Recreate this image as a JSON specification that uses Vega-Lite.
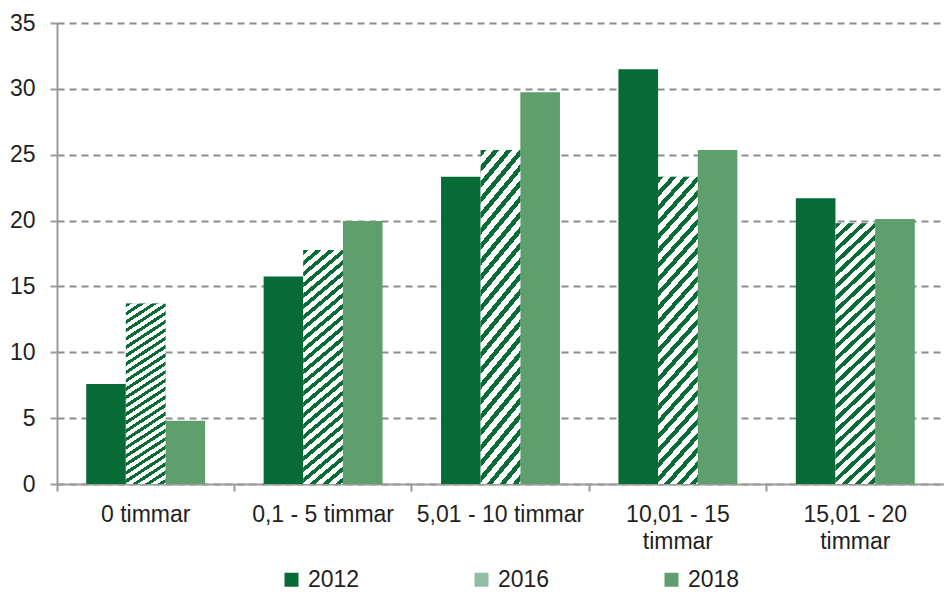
{
  "$schema": "https://vega.github.io/schema/vega-lite/v6.json",
  "autosize": {"type": "none"},
  "padding": {"left": 57, "top": 23, "right": 0, "bottom": 108},
  "width": 887,
  "height": 461,
  "background": "#ffffff",
  "config": {
    "view": {"stroke": null},
    "font": "Liberation Sans",
    "axis": {"labelFont": "Liberation Sans", "labelFontSize": 23, "labelColor": "#231f20"},
    "legend": {"labelFont": "Liberation Sans", "labelFontSize": 23, "labelColor": "#231f20"}
  },
  "data": {
    "values": [
      {"kategori": "0 timmar", "year": "2012", "value": 7.6},
      {"kategori": "0 timmar", "year": "2016", "value": 13.7},
      {"kategori": "0 timmar", "year": "2018", "value": 4.8},
      {"kategori": "0,1 - 5 timmar", "year": "2012", "value": 15.75},
      {"kategori": "0,1 - 5 timmar", "year": "2016", "value": 17.77},
      {"kategori": "0,1 - 5 timmar", "year": "2018", "value": 19.97},
      {"kategori": "5,01 - 10 timmar", "year": "2012", "value": 23.33},
      {"kategori": "5,01 - 10 timmar", "year": "2016", "value": 25.36},
      {"kategori": "5,01 - 10 timmar", "year": "2018", "value": 29.75},
      {"kategori": "10,01 - 15 timmar", "year": "2012", "value": 31.48},
      {"kategori": "10,01 - 15 timmar", "year": "2016", "value": 23.33},
      {"kategori": "10,01 - 15 timmar", "year": "2018", "value": 25.36},
      {"kategori": "15,01 - 20 timmar", "year": "2012", "value": 21.69},
      {"kategori": "15,01 - 20 timmar", "year": "2016", "value": 19.79},
      {"kategori": "15,01 - 20 timmar", "year": "2018", "value": 20.12}
    ]
  },
  "encoding": {
    "x": {
      "field": "kategori",
      "type": "nominal",
      "sort": null,
      "title": null,
      "scale": {"paddingInner": 0, "paddingOuter": 0},
      "axis": {
        "labelAngle": 0,
        "bandPosition": 0,
        "tickSize": 7,
        "tickWidth": 2,
        "tickColor": "#9b9b9b",
        "domainColor": "#9b9b9b",
        "domainWidth": 2,
        "labelPadding": 12,
        "labelLineHeight": 27,
        "labelLimit": 300,
        "labelExpr": "length(datum.value) > 16 ? [slice(datum.value, 0, 10), 'timmar'] : datum.value"
      }
    },
    "xOffset": {
      "field": "year",
      "type": "nominal",
      "scale": {"paddingInner": 0, "paddingOuter": 0.7375}
    },
    "y": {
      "field": "value",
      "type": "quantitative",
      "title": null,
      "scale": {"domain": [0, 35], "nice": false},
      "axis": {
        "values": [0, 5, 10, 15, 20, 25, 30, 35],
        "tickSize": 7,
        "tickWidth": 2,
        "tickColor": "#9b9b9b",
        "domainColor": "#9b9b9b",
        "domainWidth": 2,
        "labelPadding": 15,
        "grid": true,
        "gridColor": "#8c8c8c",
        "gridWidth": 2,
        "gridDash": [7, 5]
      }
    }
  },
  "layer": [
    {
      "mark": {"type": "bar"},
      "encoding": {
        "color": {
          "field": "year",
          "type": "nominal",
          "title": null,
          "scale": {"domain": ["2012", "2016", "2018"], "range": ["#066b36", "#91bca5", "#5f9f6e"]},
          "legend": {
            "orient": "none",
            "direction": "horizontal",
            "legendX": 223,
            "legendY": 545,
            "symbolType": "square",
            "symbolSize": 196,
            "symbolStrokeWidth": 0,
            "labelOffset": 5,
            "columnPadding": 110,
            "padding": 0
          }
        }
      }
    },
    {
      "transform": [{"filter": "datum.year == '2016'"}],
      "mark": {
        "type": "bar",
        "fill": {"gradient": "linear", "x1": 0, "y1": 0, "x2": 0.195, "y2": 1.365, "stops": [
      {"offset": 0, "color": "#0b6b36"}, {"offset": 0.015, "color": "#0b6b36"}, {"offset": 0.015, "color": "#ffffff"}, {"offset": 0.0333, "color": "#ffffff"},
      {"offset": 0.0333, "color": "#0b6b36"}, {"offset": 0.0483, "color": "#0b6b36"}, {"offset": 0.0483, "color": "#ffffff"}, {"offset": 0.0667, "color": "#ffffff"},
      {"offset": 0.0667, "color": "#0b6b36"}, {"offset": 0.0817, "color": "#0b6b36"}, {"offset": 0.0817, "color": "#ffffff"}, {"offset": 0.1, "color": "#ffffff"},
      {"offset": 0.1, "color": "#0b6b36"}, {"offset": 0.115, "color": "#0b6b36"}, {"offset": 0.115, "color": "#ffffff"}, {"offset": 0.1333, "color": "#ffffff"},
      {"offset": 0.1333, "color": "#0b6b36"}, {"offset": 0.1483, "color": "#0b6b36"}, {"offset": 0.1483, "color": "#ffffff"}, {"offset": 0.1667, "color": "#ffffff"},
      {"offset": 0.1667, "color": "#0b6b36"}, {"offset": 0.1817, "color": "#0b6b36"}, {"offset": 0.1817, "color": "#ffffff"}, {"offset": 0.2, "color": "#ffffff"},
      {"offset": 0.2, "color": "#0b6b36"}, {"offset": 0.215, "color": "#0b6b36"}, {"offset": 0.215, "color": "#ffffff"}, {"offset": 0.2333, "color": "#ffffff"},
      {"offset": 0.2333, "color": "#0b6b36"}, {"offset": 0.2483, "color": "#0b6b36"}, {"offset": 0.2483, "color": "#ffffff"}, {"offset": 0.2667, "color": "#ffffff"},
      {"offset": 0.2667, "color": "#0b6b36"}, {"offset": 0.2817, "color": "#0b6b36"}, {"offset": 0.2817, "color": "#ffffff"}, {"offset": 0.3, "color": "#ffffff"},
      {"offset": 0.3, "color": "#0b6b36"}, {"offset": 0.315, "color": "#0b6b36"}, {"offset": 0.315, "color": "#ffffff"}, {"offset": 0.3333, "color": "#ffffff"},
      {"offset": 0.3333, "color": "#0b6b36"}, {"offset": 0.3483, "color": "#0b6b36"}, {"offset": 0.3483, "color": "#ffffff"}, {"offset": 0.3667, "color": "#ffffff"},
      {"offset": 0.3667, "color": "#0b6b36"}, {"offset": 0.3817, "color": "#0b6b36"}, {"offset": 0.3817, "color": "#ffffff"}, {"offset": 0.4, "color": "#ffffff"},
      {"offset": 0.4, "color": "#0b6b36"}, {"offset": 0.415, "color": "#0b6b36"}, {"offset": 0.415, "color": "#ffffff"}, {"offset": 0.4333, "color": "#ffffff"},
      {"offset": 0.4333, "color": "#0b6b36"}, {"offset": 0.4483, "color": "#0b6b36"}, {"offset": 0.4483, "color": "#ffffff"}, {"offset": 0.4667, "color": "#ffffff"},
      {"offset": 0.4667, "color": "#0b6b36"}, {"offset": 0.4817, "color": "#0b6b36"}, {"offset": 0.4817, "color": "#ffffff"}, {"offset": 0.5, "color": "#ffffff"},
      {"offset": 0.5, "color": "#0b6b36"}, {"offset": 0.515, "color": "#0b6b36"}, {"offset": 0.515, "color": "#ffffff"}, {"offset": 0.5333, "color": "#ffffff"},
      {"offset": 0.5333, "color": "#0b6b36"}, {"offset": 0.5483, "color": "#0b6b36"}, {"offset": 0.5483, "color": "#ffffff"}, {"offset": 0.5667, "color": "#ffffff"},
      {"offset": 0.5667, "color": "#0b6b36"}, {"offset": 0.5817, "color": "#0b6b36"}, {"offset": 0.5817, "color": "#ffffff"}, {"offset": 0.6, "color": "#ffffff"},
      {"offset": 0.6, "color": "#0b6b36"}, {"offset": 0.615, "color": "#0b6b36"}, {"offset": 0.615, "color": "#ffffff"}, {"offset": 0.6333, "color": "#ffffff"},
      {"offset": 0.6333, "color": "#0b6b36"}, {"offset": 0.6483, "color": "#0b6b36"}, {"offset": 0.6483, "color": "#ffffff"}, {"offset": 0.6667, "color": "#ffffff"},
      {"offset": 0.6667, "color": "#0b6b36"}, {"offset": 0.6817, "color": "#0b6b36"}, {"offset": 0.6817, "color": "#ffffff"}, {"offset": 0.7, "color": "#ffffff"},
      {"offset": 0.7, "color": "#0b6b36"}, {"offset": 0.715, "color": "#0b6b36"}, {"offset": 0.715, "color": "#ffffff"}, {"offset": 0.7333, "color": "#ffffff"},
      {"offset": 0.7333, "color": "#0b6b36"}, {"offset": 0.7483, "color": "#0b6b36"}, {"offset": 0.7483, "color": "#ffffff"}, {"offset": 0.7667, "color": "#ffffff"},
      {"offset": 0.7667, "color": "#0b6b36"}, {"offset": 0.7817, "color": "#0b6b36"}, {"offset": 0.7817, "color": "#ffffff"}, {"offset": 0.8, "color": "#ffffff"},
      {"offset": 0.8, "color": "#0b6b36"}, {"offset": 0.815, "color": "#0b6b36"}, {"offset": 0.815, "color": "#ffffff"}, {"offset": 0.8333, "color": "#ffffff"},
      {"offset": 0.8333, "color": "#0b6b36"}, {"offset": 0.8483, "color": "#0b6b36"}, {"offset": 0.8483, "color": "#ffffff"}, {"offset": 0.8667, "color": "#ffffff"},
      {"offset": 0.8667, "color": "#0b6b36"}, {"offset": 0.8817, "color": "#0b6b36"}, {"offset": 0.8817, "color": "#ffffff"}, {"offset": 0.9, "color": "#ffffff"},
      {"offset": 0.9, "color": "#0b6b36"}, {"offset": 0.915, "color": "#0b6b36"}, {"offset": 0.915, "color": "#ffffff"}, {"offset": 0.9333, "color": "#ffffff"},
      {"offset": 0.9333, "color": "#0b6b36"}, {"offset": 0.9483, "color": "#0b6b36"}, {"offset": 0.9483, "color": "#ffffff"}, {"offset": 0.9667, "color": "#ffffff"},
      {"offset": 0.9667, "color": "#0b6b36"}, {"offset": 0.9817, "color": "#0b6b36"}, {"offset": 0.9817, "color": "#ffffff"}, {"offset": 1, "color": "#ffffff"}
        ]}
      }
    }
  ]
}
